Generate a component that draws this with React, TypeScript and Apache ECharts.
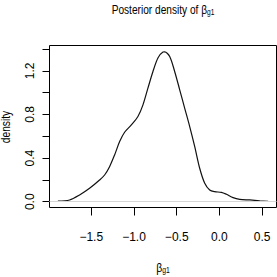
import React, { useEffect, useRef } from "react";
import * as echarts from "echarts";

const densityX = [
  -1.891, -1.754, -1.637, -1.52, -1.403, -1.344, -1.286, -1.227, -1.168, -1.11,
  -1.031, -0.954, -0.895, -0.837, -0.778, -0.72, -0.661, -0.641, -0.582, -0.524,
  -0.465, -0.407, -0.348, -0.289, -0.231, -0.172, -0.114, -0.055, 0.023, 0.082,
  0.16, 0.238, 0.355, 0.472, 0.57,
];
const densityY = [
  0.006, 0.016, 0.062, 0.123, 0.199, 0.245, 0.321, 0.429, 0.551, 0.637,
  0.704, 0.781, 0.888, 1.041, 1.194, 1.317, 1.372, 1.374, 1.332, 1.194,
  1.026, 0.858, 0.689, 0.505, 0.307, 0.169, 0.107, 0.092, 0.086, 0.068,
  0.037, 0.022, 0.016, 0.009, 0.004,
];
const xTicks = [-1.5, -1.0, -0.5, 0.0, 0.5];
const yTicks = [0, 0.2, 0.4, 0.6, 0.8, 1.0, 1.2, 1.4];
const yLabels = [0, 0.4, 0.8, 1.2];
const titleMain = "Posterior density of β";
const symbolSub = "g1";
const yTitle = "density";

const FONT = '"Liberation Sans Narrow", "Liberation Sans", Arial, sans-serif';

export default function App() {
  const ref = useRef<HTMLDivElement>(null);
  useEffect(() => {
    if (!ref.current) return;
    const chart = echarts.init(ref.current, undefined, { renderer: "svg" });
    const fmt = (v: number) => v.toFixed(1).replace("-", "\u2212");
    const rich = {
      a: { fontSize: 13, lineHeight: 16, fontFamily: FONT, fill: "#000" },
      b: { fontSize: 8.5, lineHeight: 8, verticalAlign: "bottom", fontFamily: FONT, fill: "#000" },
    };
    chart.setOption({
      animation: false,
      grid: {
        left: 49.5,
        right: 0.5,
        top: 45.5,
        bottom: 69.5,
        show: true,
        borderColor: "#000",
        borderWidth: 1,
        containLabel: false,
      },
      xAxis: {
        type: "value",
        min: -1.989,
        max: 0.668,
        axisLine: { show: false, onZero: false },
        splitLine: { show: false },
        axisTick: {
          show: true,
          customValues: xTicks,
          length: 8,
          lineStyle: { color: "#000", width: 1 },
        },
        axisLabel: {
          customValues: xTicks,
          formatter: fmt,
          margin: 23,
          fontSize: 12,
          fontFamily: FONT,
          color: "#000",
        },
      },
      yAxis: {
        type: "value",
        min: -0.053,
        max: 1.432,
        axisLine: { show: false, onZero: false },
        splitLine: { show: false },
        axisTick: {
          show: true,
          customValues: yTicks,
          length: 7,
          lineStyle: { color: "#000", width: 1 },
        },
        axisLabel: {
          customValues: yLabels,
          formatter: fmt,
          rotate: 90,
          margin: 13.5,
          fontSize: 12,
          fontFamily: FONT,
          color: "#000",
        },
      },
      series: [
        {
          type: "line",
          data: densityX.map((x, i) => [x, densityY[i]]),
          smooth: 0.3,
          showSymbol: false,
          lineStyle: { color: "#111", width: 1.2 },
          markLine: {
            silent: true,
            symbol: "none",
            label: { show: false },
            lineStyle: { color: "#d6d6d6", width: 1, type: "solid" },
            data: [{ yAxis: 0 }],
          },
        },
      ],
      graphic: [
        {
          type: "text",
          x: 163,
          y: 9,
          scaleX: 0.78,
          style: {
            text: `{a|${titleMain}}{b|${symbolSub}}`,
            align: "center",
            verticalAlign: "middle",
            rich,
          },
        },
        {
          type: "text",
          x: 163,
          y: 267,
          scaleX: 0.8,
          style: {
            text: `{a|β}{b|${symbolSub}}`,
            align: "center",
            verticalAlign: "middle",
            rich,
          },
        },
        {
          type: "text",
          x: 6,
          y: 127,
          rotation: Math.PI / 2,
          scaleX: 0.82,
          style: {
            text: yTitle,
            align: "center",
            verticalAlign: "middle",
            fontSize: 12.5,
            fontFamily: FONT,
            fill: "#000",
          },
        },
      ],
    });
    return () => chart.dispose();
  }, []);
  return (
    <div
      ref={ref}
      style={{ position: "absolute", left: 0, top: 0, width: 277, height: 277, background: "#fff" }}
    />
  );
}
